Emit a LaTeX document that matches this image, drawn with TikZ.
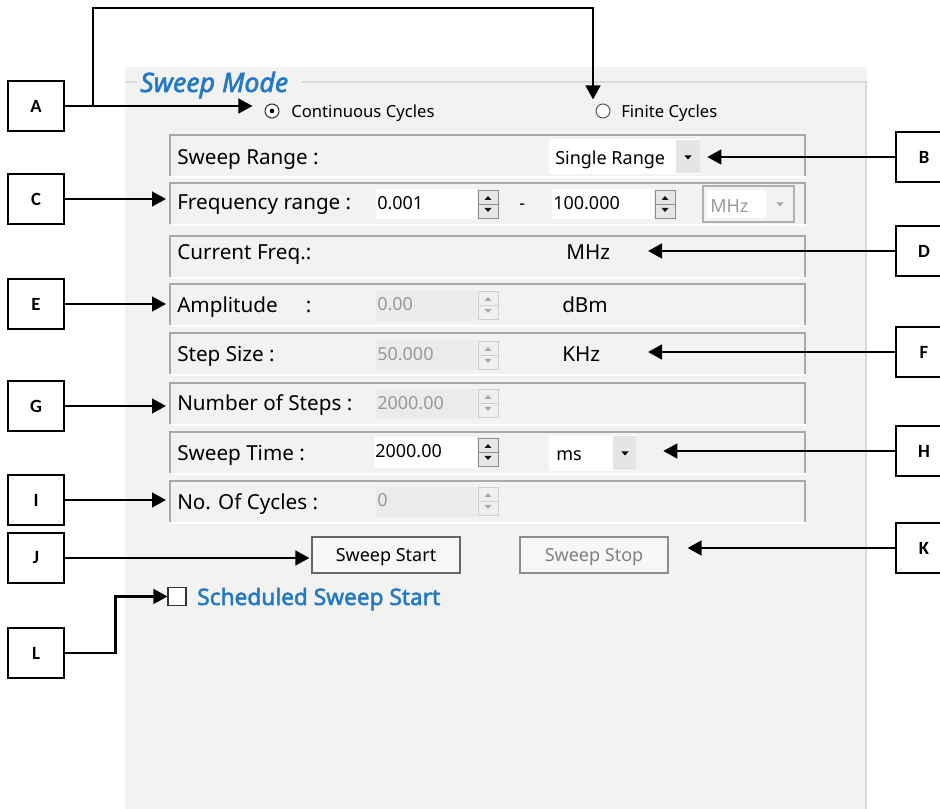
\documentclass[tikz,border=0pt]{standalone}
\usepackage{fontspec}
\setmainfont{Noto Sans}[AutoFakeBold=2.2]
\newfontfamily\tagfont{Carlito}
\newfontfamily\titlefont{Noto Sans}[FakeBold=2.2]
\usetikzlibrary{arrows.meta,positioning,calc}
\definecolor{panel}{HTML}{F2F2F1}
\definecolor{rowedge}{HTML}{A9A9A9}
\definecolor{groupedge}{HTML}{DADADA}
\definecolor{uiblue}{HTML}{2479C4}
\definecolor{distext}{HTML}{999999}
\definecolor{disfill}{HTML}{EBEBEB}
\definecolor{dropgray}{HTML}{E5E5E5}
\definecolor{onface}{HTML}{E6E6E6}
\definecolor{onedge}{HTML}{8C8C8C}
\definecolor{ontip}{HTML}{111111}
\definecolor{offface}{HTML}{EFEFEF}
\definecolor{offedge}{HTML}{CFCFCF}
\definecolor{offtip}{HTML}{A8A8A8}
\tikzset{
    tagbox/.style={draw,line width=0.9pt,fill=white,minimum width=42pt,minimum height=37.5pt,
        font=\tagfont\bfseries\fontsize{14}{16}\selectfont},
    pre/.style={-{Triangle[length=10.5pt,width=11pt]},line width=1.8pt},
    rowline/.style={draw=rowedge,line width=0.8pt},
    rowlabel/.style={anchor=base west,inner sep=0pt,font=\fontsize{15.5}{18}\selectfont},
    fieldval/.style={anchor=base west,inner sep=0pt,font=\fontsize{13.5}{16}\selectfont},
    smalltext/.style={anchor=base west,inner sep=0pt,font=\fontsize{12.5}{14}\selectfont},
    combo/.style={fill=white,inner sep=0pt},
    button/.style={draw=#1,line width=0.9pt,fill=panel!60!white,minimum width=111pt,minimum height=27pt,
        inner sep=0pt,text depth=0pt,font=\fontsize{13.5}{16}\selectfont},
    radio/.style={circle,draw=#1,line width=0.8pt,fill=white,minimum size=10.5pt,inner sep=0pt},
    pics/spinner/.style={code={
        \draw[fill=#1face,draw=#1edge,line width=0.7pt] (-10,-14) rectangle (10,14);
        \draw[#1edge,line width=0.7pt] (-10,0) -- (10,0);
        \fill[#1tip] (-3.5,-4) -- (3.5,-4) -- (0,-8) -- cycle;
        \fill[#1tip] (-3.5,4) -- (3.5,4) -- (0,8) -- cycle;
    }}
}

\begin{document}
\begin{tikzpicture}[x=0.75pt,y=-0.75pt]
    \useasboundingbox (0,0) rectangle (940,809);
    \clip (0,0) rectangle (940,809);
    \fill[white] (0,0) rectangle (940,809);

    % dialog panel
    \fill[panel] (125,67) rectangle (867,809);
    \draw[groupedge,line width=0.8pt] (126,82) -- (137,82);
    \draw[groupedge,line width=0.8pt] (302,82) -- (866,82) -- (866,809);
    \node[anchor=base west,inner sep=0pt,text=uiblue,font=\titlefont\itshape\fontsize{20}{24}\selectfont]
        (modetitle) at (140,92) {Sweep Mode};

    \node[radio=black!80] (contradio) at (272,111) {};
    \fill (contradio) circle (2.3);
    \node[smalltext] (conttext) at (291,118) {Continuous Cycles};
    \node[radio=black!65] (finradio) at (603,111) {};
    \node[smalltext] (fintext) at (621,118) {Finite Cycles};

    % setting rows
    \foreach \t in {135,183,236,284,333,383,432,481}
        {
        \draw[rowline] (170,{\t+41}) |- (805,\t) -- (805,{\t+41});
        \draw[white,line width=1pt] (171,{\t+42}) -- (806,{\t+42});
        }

    \node[rowlabel] (lblrange) at (177,165) {Sweep Range :};
    \node[rowlabel] (lblfreq)  at (177,210) {Frequency range :};
    \node[rowlabel] (lblcur)   at (177,260) {Current Freq.:};
    \node[rowlabel] (lblamp)   at (177,313) {Amplitude\hspace{21pt}:};
    \node[rowlabel] (lblstep)  at (177,362) {Step Size :};
    \node[rowlabel] (lblnum)   at (177,411) {Number of Steps :};
    \node[rowlabel] (lbltime)  at (177,460) {Sweep Time :};
    \node[rowlabel] (lblcyc)   at (177,509) {No. Of Cycles :};

    % sweep range
    \node[combo,minimum width=113.25pt,minimum height=26.25pt] (rangecombo) at (624.5,156.5) {};
    \fill[dropgray] (676,140) rectangle (700,173);
    \fill (684.5,155.5) -- (691.5,155.5) -- (688,159.5) -- cycle;
    \node[fieldval] (rangetext) at (555,165) {Single Range};

    % frequency range
    \fill[white] (376,189) rectangle (477,219);
    \node[fieldval] (fmin) at (377,210) {0.001};
    \pic at (488,204) {spinner=on};
    \node[fieldval] (rangedash) at (519,210) {-};
    \fill[white] (552,189) rectangle (654,219);
    \node[fieldval] (fmax) at (553,210) {100.000};
    \pic at (665,204) {spinner=on};
    \draw[draw=offedge!85!black,fill=panel,line width=0.9pt] (703,186) rectangle (794,222);
    \fill[white] (707,190) rectangle (766,218);
    \node[fieldval,text=distext] (fmhz) at (710,213) {MHz};
    \fill[offtip] (776.5,202.5) -- (783.5,202.5) -- (780,206.5) -- cycle;

    % current frequency
    \node[rowlabel] (curunit) at (566,260) {MHz};

    % amplitude
    \fill[disfill] (376,290) rectangle (477,321);
    \node[fieldval,text=distext] (ampval) at (377,311) {0.00};
    \pic at (488,305) {spinner=off};
    \node[rowlabel] (ampunit) at (562,313) {dBm};

    % step size
    \fill[disfill] (376,340) rectangle (477,370);
    \node[fieldval,text=distext] (stepval) at (377,361) {50.000};
    \pic at (488,355) {spinner=off};
    \node[rowlabel] (stepunit) at (562,362) {KHz};

    % number of steps
    \fill[disfill] (376,389) rectangle (477,419);
    \node[fieldval,text=distext] (numval) at (377,410) {2000.00};
    \pic at (488,403) {spinner=off};

    % sweep time
    \fill[white] (374,437) rectangle (477,468);
    \node[fieldval] (timeval) at (375,458) {2000.00};
    \pic at (488,452) {spinner=on};
    \node[combo,minimum width=65.25pt,minimum height=27pt] (mscombo) at (592.5,453) {};
    \fill[dropgray] (613,436) rectangle (636,470);
    \fill (621.5,451.5) -- (628.5,451.5) -- (625,455.5) -- cycle;
    \node[fieldval] (mstext) at (556,460) {ms};

    % cycles
    \fill[disfill] (376,487) rectangle (477,517);
    \node[fieldval,text=distext] (cycval) at (377,507) {0};
    \pic at (488,501) {spinner=off};

    % buttons
    \node[button=black!60] (startbtn) at (386,555) {Sweep Start};
    \node[button=black!45,text=black!50] (stopbtn) at (594,555) {Sweep Stop};
    \node[draw=black!80,line width=0.8pt,fill=white,minimum size=13.5pt,inner sep=0pt] (schedbox) at (177,596.5) {};
    \node[anchor=base west,inner sep=0pt,text=uiblue,font=\bfseries\fontsize{17}{20}\selectfont]
        (schedtext) at (197,605) {Scheduled Sweep Start};

    % callout tags
    \node[tagbox] (tagA) at (36,106) {A};
    \node[tagbox] (tagB) at (924,157) {B};
    \node[tagbox] (tagC) at (36,199) {C};
    \node[tagbox] (tagD) at (924,251) {D};
    \node[tagbox] (tagE) at (36,304) {E};
    \node[tagbox] (tagF) at (924,352) {F};
    \node[tagbox] (tagG) at (36,406) {G};
    \node[tagbox] (tagH) at (924,451) {H};
    \node[tagbox] (tagI) at (36,500) {I};
    \node[tagbox] (tagJ) at (36,558) {J};
    \node[tagbox] (tagK) at (924,548) {K};
    \node[tagbox] (tagL) at (36,653) {L};

    \coordinate (topbend) at (93,8);
    \draw[pre] (tagA) -- ($(tagA -| contradio.west)+(-12,0)$);
    \draw[pre] (tagA.east -| topbend) -- (topbend) -| ($(finradio.north)+(-10,-4)$);
    \draw[pre] (tagB) -- ($(tagB -| rangecombo.east)+(7,0)$);
    \draw[pre] (tagC) -- ($(tagC -| lblfreq.west)+(-11,0)$);
    \draw[pre] (tagD) -- ($(tagD -| curunit.west)+(82,0)$);
    \draw[pre] (tagE) -- ($(tagE -| lblamp.west)+(-11,0)$);
    \draw[pre] (tagF) -- ($(tagF -| stepunit.west)+(86,0)$);
    \draw[pre] (tagG) -- ($(tagG -| lblnum.west)+(-11,0)$);
    \draw[pre] (tagH) -- ($(tagH -| mscombo.east)+(27,0)$);
    \draw[pre] (tagI) -- ($(tagI -| lblcyc.west)+(-11,0)$);
    \draw[pre] (tagJ) -- ($(tagJ -| startbtn.west)+(-2,0)$);
    \draw[pre] (tagK) -- ($(tagK -| stopbtn.east)+(19,0)$);
    \draw[pre] (tagL.east) -- ++(51,0) |- (schedbox);

\end{tikzpicture}
\end{document}
